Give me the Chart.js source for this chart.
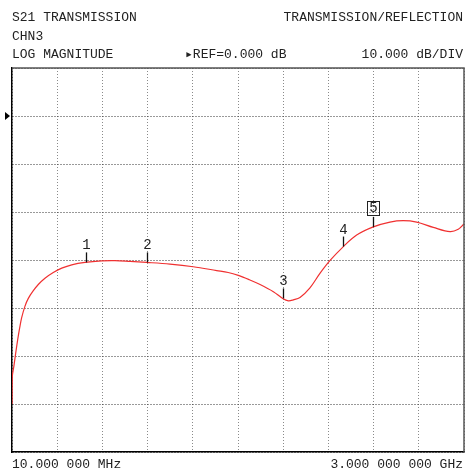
<!DOCTYPE html>
<html>
<head>
<meta charset="utf-8">
<script src="https://cdn.jsdelivr.net/npm/chart.js@4/dist/chart.umd.min.js"></script>
<style>
  html, body { margin: 0; padding: 0; background: #fff; }
  #wrap { position: relative; width: 467px; height: 474px; overflow: hidden; }
  canvas { position: absolute; left: 0; top: 0; }
  .t { position: absolute; font-family: "Liberation Mono", "DejaVu Sans Mono", monospace; font-size: 13px; line-height: 13px; color: #222; white-space: pre; }
  .r { text-align: right; }
  .mk { position: absolute; font-family: "Liberation Mono", "DejaVu Sans Mono", monospace; font-size: 14px; line-height: 12px; color: #222; text-align: center; width: 14px; }
  .mk.box { border: 1px solid #222; width: 11px; height: 13px; line-height: 13px; }
</style>
</head>
<body>
<div id="wrap">
  <canvas id="c" width="467" height="474"></canvas>
  <div class="t" style="left:12px; top:11px;">S21 TRANSMISSION</div>
  <div class="t r" style="right:4px; top:11px;">TRANSMISSION/REFLECTION</div>
  <div class="t" style="left:12px; top:29.5px;">CHN3</div>
  <div class="t" style="left:12px; top:47.5px;">LOG MAGNITUDE</div>
  <div class="t" style="left:185px; top:47.5px;">▸REF=0.000 dB</div>
  <div class="t r" style="right:4px; top:47.5px;">10.000 dB/DIV</div>
  <div class="t" style="left:12px; top:457.5px;">10.000 000 MHz</div>
  <div class="t r" style="right:4px; top:457.5px;">3.000 000 000 GHz</div>
</div>
<script>
// Trace data (frequency in MHz, S21 in dB)
const freqMHz = [10, 12, 23, 34.5, 47.7, 61, 74, 96, 118, 151, 184, 228, 283, 339, 405, 493, 603, 691, 791, 901, 1055, 1209, 1364, 1440, 1507, 1580, 1651, 1739, 1801, 1838, 1871, 1915, 1981, 2047, 2114, 2202, 2290, 2400, 2510, 2598, 2687, 2797, 2908, 2962, 3000];
const s21dB = [-60, -54.3, -52.0, -49.4, -46.6, -44.1, -42.0, -39.6, -38.0, -36.4, -35.1, -33.8, -32.6, -31.7, -31.0, -30.5, -30.2, -30.15, -30.3, -30.5, -30.85, -31.4, -32.2, -32.6, -33.2, -34.1, -35.1, -36.6, -38.0, -38.5, -38.3, -37.8, -35.8, -32.8, -30.1, -27.2, -24.8, -23.1, -22.1, -21.8, -22.1, -23.2, -24.1, -23.6, -22.5];

// Markers
const markerLabels = ['1', '2', '3', '4', '5'];
const markerMHz = [500, 900, 1800, 2200, 2400];
const markerDB = [-30.5, -30.5, -38.0, -27.2, -23.1];
const activeMarker = '5';

// Grid ticks
const xGridMHz = [10, 309, 608, 907, 1206, 1505, 1804, 2103, 2402, 2701, 3000];
const yGridDB = [-70, -60, -50, -40, -30, -20, -10, 0, 10];
const refLevelDB = 0;

const points = freqMHz.map((f, i) => ({ x: f, y: s21dB[i] }));

const overlay = {
  id: 'overlay',
  afterDraw(chart) {
    const ctx = chart.ctx;
    const a = chart.chartArea;
    const xs = chart.scales.x, ys = chart.scales.y;
    ctx.save();
    // top and right frame
    ctx.strokeStyle = '#555';
    ctx.lineWidth = 1.5;
    ctx.beginPath();
    ctx.moveTo(a.left, a.top); ctx.lineTo(a.right, a.top); ctx.lineTo(a.right, a.bottom);
    ctx.stroke();
    // reference arrow
    const yr = ys.getPixelForValue(refLevelDB);
    ctx.fillStyle = '#000';
    ctx.beginPath();
    ctx.moveTo(5, yr - 4); ctx.lineTo(5, yr + 4); ctx.lineTo(10, yr);
    ctx.closePath(); ctx.fill();
    // marker ticks
    ctx.strokeStyle = '#111';
    ctx.lineWidth = 1.3;
    const wrap = document.getElementById('wrap');
    markerMHz.forEach((f, i) => {
      const px = Math.round(xs.getPixelForValue(f)) + 0.5;
      const py = ys.getPixelForValue(markerDB[i]);
      ctx.beginPath();
      ctx.moveTo(px, py); ctx.lineTo(px, py - 10);
      ctx.stroke();
      let el = document.getElementById('mk' + i);
      if (!el) {
        el = document.createElement('div');
        el.id = 'mk' + i;
        el.className = 'mk' + (markerLabels[i] === activeMarker ? ' box' : '');
        el.textContent = markerLabels[i];
        wrap.appendChild(el);
      }
      const boxed = markerLabels[i] === activeMarker;
      const w = boxed ? 13 : 14;
      const h = boxed ? 15 : 12;
      el.style.left = (px - w / 2) + 'px';
      el.style.top = (py - 11 - h) + 'px';
    });
    ctx.restore();
  }
};

new Chart(document.getElementById('c'), {
  type: 'line',
  data: {
    datasets: [{
      data: points,
      borderColor: '#f03030',
      borderWidth: 1.2,
      pointRadius: 0,
      tension: 0.35,
      fill: false
    }]
  },
  options: {
    responsive: false,
    animation: false,
    devicePixelRatio: 1,
    layout: { padding: { left: 12, right: 3, top: 68, bottom: 22 } },
    plugins: { legend: { display: false }, tooltip: { enabled: false }, title: { display: false } },
    scales: {
      x: {
        type: 'linear',
        min: 10, max: 3000,
        afterBuildTicks(scale) { scale.ticks = xGridMHz.map(v => ({ value: v })); },
        ticks: { display: false },
        grid: { color: '#8a8a8a', lineWidth: 1, drawTicks: false, tickLength: 0 },
        border: { display: true, color: '#000', width: 1.5, dash: [1, 2] }
      },
      y: {
        type: 'linear',
        min: -70, max: 10,
        afterBuildTicks(scale) { scale.ticks = yGridDB.map(v => ({ value: v })); },
        ticks: { display: false },
        grid: { color: '#333', lineWidth: 1, drawTicks: false, tickLength: 0 },
        border: { display: true, color: '#000', width: 1.5, dash: [1, 2] }
      }
    }
  },
  plugins: [overlay]
});
</script>
</body>
</html>
